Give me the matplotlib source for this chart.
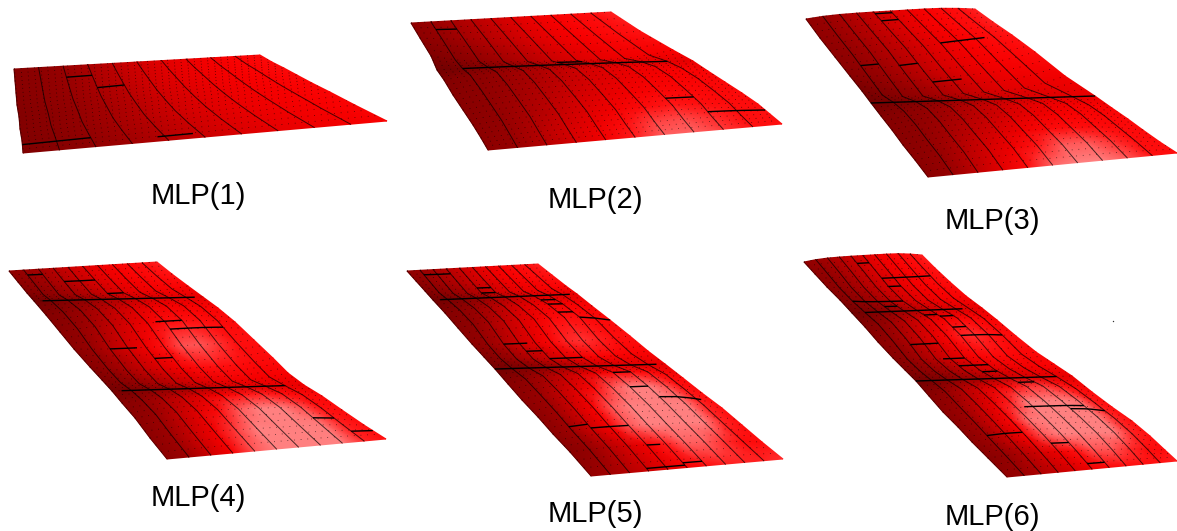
import numpy as np
import matplotlib
matplotlib.use('Agg')
import matplotlib.pyplot as plt
from matplotlib.colors import LinearSegmentedColormap

# ---------------- labels ----------------
labels = ['MLP(1)', 'MLP(2)', 'MLP(3)', 'MLP(4)', 'MLP(5)', 'MLP(6)']
label_x = [198, 595, 992, 198, 595, 992]
label_y = [196, 200, 221, 498, 514, 517]

# stray speck right of MLP(6)
speck_x = [1113]
speck_y = [321]

# ---------------- values across one row (11 grid lines) ----------------
col_tone = [0.08, 0.12, 0.18, 0.25, 0.33, 0.42, 0.50, 0.56, 0.60, 0.63, 0.66]
col_lift = [0, 0.55, 0.85, 0.95, 1, 1, 1, 1, 0.9, 0.55, 0]
col_glow = [0, 0.1, 0.35, 0.6, 0.8, 0.95, 1, 0.8, 0.45, 0.12, 0]

# ---------------- MLP(1) ----------------
p1_lx = [14, 15, 16, 17, 19, 20, 22, 23]
p1_ly = [69, 81, 93, 105, 117, 129, 141, 153]
p1_rx = [260, 272, 284, 297, 312, 330, 355, 387]
p1_ry = [55, 62, 68, 75, 83, 92, 105, 121]
p1_lift = [0, 0, 0, 0, 0, 0, 0, 0]
p1_tone = [0.02, 0.02, 0.02, 0.01, 0, 0, -0.01, -0.02]
p1_glow = [0, 0, 0, 0, 0, 0, 0, 0]
p1_bars = [(1, 2, 3), (2.2, 3, 4), (6.7, 3.8, 4.8), (6.3, 0, 2)]

# ---------------- MLP(2) ----------------
p2_lx = [411, 420, 431, 437, 444, 453, 463, 473, 481, 488]
p2_ly = [23, 38, 56, 70, 80, 95, 110, 125, 138, 150]
p2_rx = [611, 640, 673, 693, 708, 725, 742, 758, 770, 782]
p2_ry = [12, 31, 50, 61, 71, 82, 93, 104, 114, 124]
p2_lift = [0, -3, -8, 1, 7, 9, 7, 5, 2, 0]
p2_tone = [0.08, 0.06, -0.02, -0.1, 0, 0.02, 0.03, 0.04, 0.05, 0.05]
p2_glow = [0, 0, 0, 0, 0, 0.02, 0.08, 0.16, 0.24, 0.28]
p2_bars = [(0.45, 1, 2), (2.4, 5, 6), (6.5, 7, 8), (7.6, 8, 10), (3, 1, 9)]

# ---------------- MLP(3) ----------------
p3_lx = [806, 820, 835, 850, 862, 871, 881, 892, 903, 915, 928]
p3_ly = [19, 38, 57, 76, 91, 103, 116, 130, 145, 160, 177]
p3_rx = [975, 993, 1012, 1035, 1065, 1095, 1112, 1128, 1143, 1160, 1177]
p3_ry = [9, 22, 35, 52, 76, 96, 108, 119, 130, 142, 153]
p3_lift = [3, 2, 0, -5, -10, 0, 7, 8, 7, 5, 0]
p3_tone = [0.08, 0.08, 0.06, 0.03, -0.06, -0.1, 0, 0.02, 0.03, 0.04, 0.04]
p3_glow = [0, 0, 0, 0, 0, 0, 0, 0.05, 0.15, 0.28, 0.4]
p3_bars = [(0.1, 4, 5), (0.5, 4, 5), (1.95, 6, 8.5), (2.5, 1, 2), (2.65, 3, 4),
           (3.45, 4, 5.5), (5, 0, 10)]

# ---------------- MLP(4) ----------------
p4_lx = [9, 18, 27, 34, 46, 60, 74, 90, 102, 112, 122, 135, 150, 167]
p4_ly = [271, 282, 293, 301, 315, 332, 349, 367, 380, 391, 403, 418, 438, 459]
p4_rx = [157, 172, 188, 203, 218, 235, 254, 273, 288, 304, 322, 342, 364, 386]
p4_ry = [262, 274, 286, 297, 308, 322, 340, 358, 373, 385, 396, 410, 425, 439]
p4_lift = [0, -2, -4, 0, 4, 4, -2, -6, -6, 0, 4, 5, 3, 0]
p4_tone = [0.08, 0.06, 0, -0.1, 0, 0.03, 0.05, 0.03, -0.02, -0.08, 0.02, 0.04, 0.05, 0.05]
p4_glow = [0, 0, 0, 0, 0.06, 0.16, 0.26, 0.16, 0.06, 0, 0.2, 0.38, 0.5, 0.55]
p4_bars = [(0.4, 1, 2), (1, 3, 5), (2, 5, 6), (4.95, 5.5, 7), (5.3, 6, 9), (6, 2, 3.5),
           (6.5, 4, 5), (11.6, 8, 9), (12.4, 9, 10), (3, 0.5, 9.5), (9, 0.5, 9)]

# ---------------- MLP(5) ----------------
p5_lx = [407, 416, 425, 433, 445, 458, 472, 484, 495, 508, 522, 538, 553, 570, 591]
p5_ly = [271, 281, 291, 300, 313, 328, 344, 357, 369, 384, 400, 417, 434, 452, 476]
p5_rx = [538, 552, 566, 577, 592, 610, 630, 648, 665, 683, 702, 722, 742, 762, 783]
p5_ry = [264, 275, 286, 294, 306, 320, 336, 351, 364, 378, 393, 408, 425, 442, 459]
p5_lift = [0, -2, -4, 0, 4, 5, -2, -4, 0, 8, 9, 7, 5, 3, 0]
p5_tone = [0.08, 0.06, 0, -0.1, 0, 0.03, 0.05, 0, -0.1, 0.02, 0.05, 0.05, 0.05, 0.03, 0.1]
p5_glow = [0, 0, 0, 0, 0.05, 0.14, 0.2, 0.1, 0, 0.14, 0.36, 0.55, 0.55, 0.3, 0.1]
p5_bars = [(0.4, 1, 3), (1.6, 4, 5), (2, 4, 5), (3.5, 7, 8), (4, 7, 8), (4.6, 7, 8),
           (5, 8, 9), (5, 9, 10), (6, 2, 3.5), (6.5, 3, 4), (7, 4, 6), (9, 6, 7), (10, 6, 7),
           (10.6, 7, 9.3), (11.8, 1, 2), (12, 2, 4), (13, 4, 4.7), (13.8, 5, 6), (13.9, 3, 5),
           (3, 0.5, 9.5), (8, 0, 9.5)]

# ---------------- MLP(6) ----------------
p6_lx = [804, 815, 827, 840, 852, 865, 878, 893, 905, 916, 929, 943, 958, 972, 988, 1007]
p6_ly = [262, 274, 287, 300, 313, 327, 342, 358, 370, 381, 396, 412, 427, 442, 458, 477]
p6_rx = [922, 935, 950, 966, 982, 997, 1016, 1036, 1054, 1072, 1092, 1112, 1132, 1150, 1165, 1177]
p6_ry = [255, 268, 282, 296, 308, 320, 336, 352, 364, 376, 392, 407, 421, 436, 450, 461]
p6_lift = [3, 1, -2, -3, 0, 4, 3, -3, -3, 0, 7, 8, 6, 5, 3, 0]
p6_tone = [0.08, 0.06, 0.04, 0, -0.1, 0, 0.04, 0.02, 0, -0.1, 0.03, 0.05, 0.05, 0.05, 0.03, 0.08]
p6_glow = [0, 0, 0, 0, 0, 0.12, 0.2, 0.12, 0, 0, 0.24, 0.45, 0.6, 0.55, 0.28, 0.08]
p6_bars = [(0.5, 4, 5), (1.5, 5, 9), (2, 5, 6), (3, 1, 5), (3.5, 3, 4), (4.5, 5, 6), (4.7, 6, 7),
           (5.5, 6, 7), (6, 6, 9), (6.3, 2, 4), (7, 3.5, 5), (7.6, 4, 6), (8.2, 5, 6), (9.5, 6, 7),
           (11.3, 4.5, 8), (11.5, 7, 9), (12.8, 1, 3), (13.5, 4, 5), (14.7, 5, 6),
           (4, 1, 8.5), (9, 0, 9)]

panels = [
    (p1_lx, p1_ly, p1_rx, p1_ry, p1_lift, p1_tone, p1_glow, p1_bars),
    (p2_lx, p2_ly, p2_rx, p2_ry, p2_lift, p2_tone, p2_glow, p2_bars),
    (p3_lx, p3_ly, p3_rx, p3_ry, p3_lift, p3_tone, p3_glow, p3_bars),
    (p4_lx, p4_ly, p4_rx, p4_ry, p4_lift, p4_tone, p4_glow, p4_bars),
    (p5_lx, p5_ly, p5_rx, p5_ry, p5_lift, p5_tone, p5_glow, p5_bars),
    (p6_lx, p6_ly, p6_rx, p6_ry, p6_lift, p6_tone, p6_glow, p6_bars),
]

reds = LinearSegmentedColormap.from_list('reds', [
    (0.0, '#620000'), (0.3, '#940000'), (0.55, '#d00000'),
    (0.75, '#f80000'), (0.84, '#ff1010'), (1.0, '#ff8080')])

fig = plt.figure(figsize=(11.77, 5.31), dpi=100)
ax = fig.add_axes([0, 0, 1, 1])
ax.set_xlim(0, 1177)
ax.set_ylim(531, 0)
ax.axis('off')

u = np.linspace(0, 1, len(col_tone))
col_idx = np.arange(len(u))
profile = np.array(col_lift)

for lx, ly, rx, ry, lift, tone, glow, bars in panels:
    lx, ly, rx, ry = map(np.array, (lx, ly, rx, ry))
    X = np.outer(lx, 1 - u) + np.outer(rx, u)
    Y = np.outer(ly, 1 - u) + np.outer(ry, u) - np.outer(lift, profile)
    S = np.array(col_tone) + np.array(tone)[:, None] + np.outer(glow, col_glow) + 0.12
    ax.pcolormesh(X, Y, S, shading='gouraud', cmap=reds, vmin=0, vmax=1, zorder=1)

    # grid lines running front to back
    for j in range(1, len(u) - 1):
        ax.plot(X[:, j], Y[:, j], color='black', lw=0.7, alpha=0.7, zorder=2)
    ax.plot(X[:, 0], Y[:, 0], color='#300000', lw=0.5, alpha=0.6, zorder=2)

    # dotted rows, several per gap
    for i in range(len(lx) - 1):
        for t in (0, 0.33, 0.66):
            xs = X[i] * (1 - t) + X[i + 1] * t
            ys = Y[i] * (1 - t) + Y[i + 1] * t
            ax.plot(xs, ys, color='black', lw=0.6, ls=(0, (1, 7)), alpha=0.7, zorder=2)

    # solid black pieces of the cross lines
    rows = np.arange(len(lx))
    for row, j0, j1 in bars:
        xb, yb = [], []
        for c in np.linspace(j0, j1, 6):
            xcol = [np.interp(c, col_idx, X[i]) for i in rows]
            ycol = [np.interp(c, col_idx, Y[i]) for i in rows]
            xb.append(np.interp(row, rows, xcol))
            yb.append(np.interp(row, rows, ycol))
        ax.plot(xb, yb, color='black', lw=1.0, zorder=3, solid_capstyle='butt')

ax.scatter(speck_x, speck_y, s=1, color='#333333', linewidths=0)

for text, x, y in zip(labels, label_x, label_y):
    ax.text(x, y, text, family='Liberation Sans', fontsize=21, color='black',
            ha='center', va='center')

fig.savefig('out.png', dpi=100)
